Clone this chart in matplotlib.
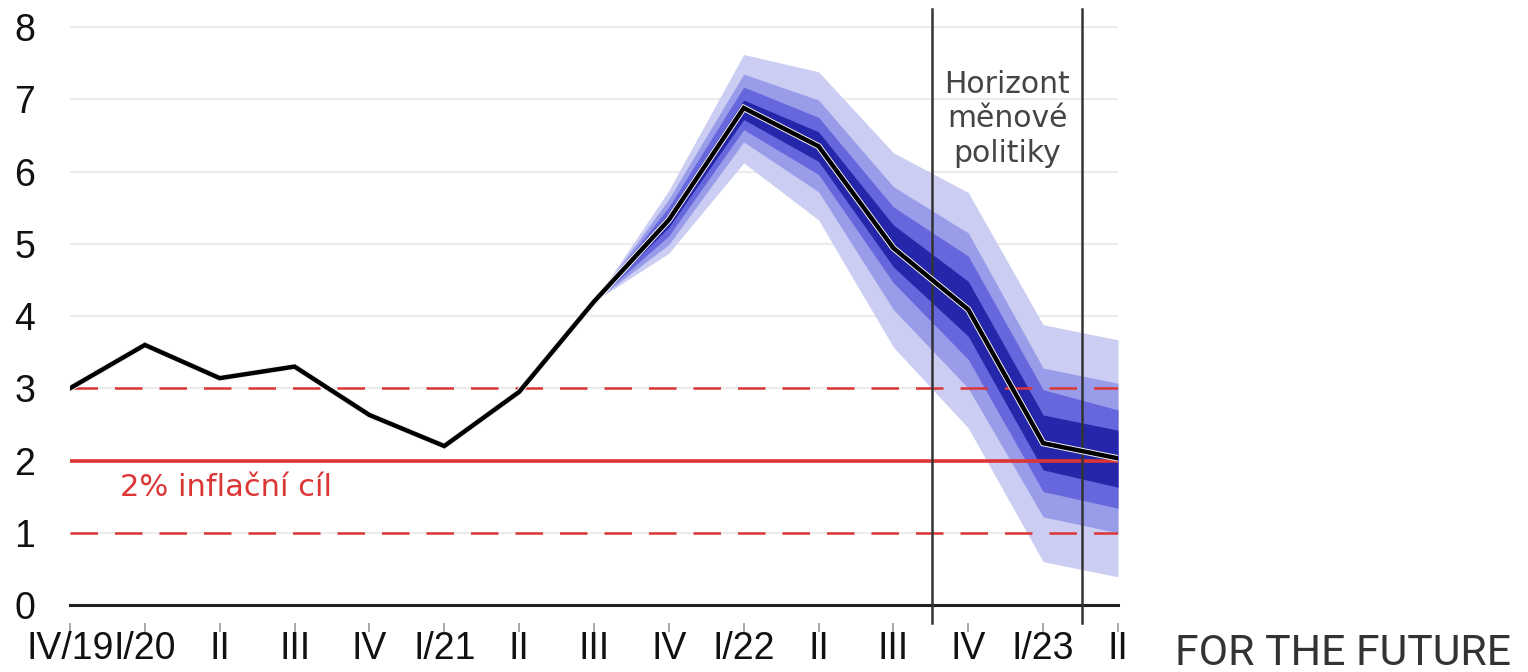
import numpy as np
import matplotlib.pyplot as plt
import matplotlib.patheffects as pe

# quarters on the x axis
quarters = ['IV/19', 'I/20', 'II', 'III', 'IV', 'I/21', 'II', 'III',
            'IV', 'I/22', 'II', 'III', 'IV', 'I/23', 'II']

# inflation (actual + forecast)
inflation = [3.0, 3.6, 3.14, 3.3, 2.63, 2.2, 2.95, 4.2,
             5.33, 6.88, 6.35, 4.94, 4.09, 2.24, 2.03]

# fan chart: first quarter of the fan is III/21 (index 7)
fan_start = 7
# upper edges, outermost to innermost
up4 = [4.2, 5.74, 7.62, 7.38, 6.26, 5.71, 3.88, 3.67]
up3 = [4.2, 5.62, 7.35, 6.99, 5.79, 5.15, 3.28, 3.07]
up2 = [4.2, 5.51, 7.17, 6.75, 5.51, 4.83, 2.98, 2.70]
up1 = [4.2, 5.42, 6.99, 6.55, 5.26, 4.48, 2.63, 2.42]
# lower edges, innermost to outermost
lo1 = [4.2, 5.23, 6.72, 6.14, 4.68, 3.72, 1.87, 1.63]
lo2 = [4.2, 5.11, 6.58, 5.96, 4.46, 3.40, 1.57, 1.34]
lo3 = [4.2, 4.99, 6.41, 5.72, 4.09, 3.00, 1.22, 1.00]
lo4 = [4.2, 4.87, 6.12, 5.33, 3.57, 2.45, 0.60, 0.39]

fan_colors = ['#cbcdf3', '#999ce9', '#6667dd', '#2626aa']

target = 2.0
tolerance = [1.0, 3.0]
horizon = [11.52, 13.52]   # monetary policy horizon lines

red = '#dc3535'

fig = plt.figure(figsize=(15.28, 6.72), dpi=100)
ax = fig.add_axes([70 / 1528, 67 / 672, 1048 / 1528, 596 / 672])

x = np.arange(len(quarters))
xf = x[fan_start:]

# grid
for v in range(1, 9):
    ax.axhline(v, color='#ebebeb', lw=1.5, zorder=0)

# fan bands
bands = [(lo4, up4), (lo3, up3), (lo2, up2), (lo1, up1)]
for (lo, up), c in zip(bands, fan_colors):
    ax.fill_between(xf, lo, up, color=c, lw=0, zorder=1)

# target line and tolerance band
ax.axhline(target, color=red, lw=2.6, zorder=2)
for t in tolerance:
    ax.axhline(t, color=red, lw=1.8, linestyle=(0, (11, 6.8)), zorder=2)

# zero axis
ax.axhline(0, color='#222222', lw=2.2, zorder=3, clip_on=False)

# horizon lines
for h in horizon:
    ax.axvline(h, ymin=-0.03, ymax=1, color='#333333', lw=1.8, zorder=4, clip_on=False)

# inflation line
ax.plot(x, inflation, color='black', lw=3.2, zorder=5, solid_joinstyle='miter',
        path_effects=[pe.Stroke(linewidth=4.6, foreground='#f4f4f4'), pe.Normal()])

ax.text(0.67, 1.63, '2% inflační cíl', color=red, fontsize=22,
        family='DejaVu Sans', ha='left', va='center')
ax.text(12.52, 7.40, 'Horizont\nměnové\npolitiky', color='#444444', fontsize=21.5,
        family='DejaVu Sans', ha='center', va='top', linespacing=1.22)

ax.set_xlim(0, 14)
ax.set_ylim(0, 8.25)
ax.set_yticks(range(0, 9))
ax.set_xticks(x)
ax.set_xticklabels(quarters)

for s in ax.spines.values():
    s.set_visible(False)
ax.spines['bottom'].set_position(('outward', 13))

ax.tick_params(axis='y', length=0, pad=25, labelsize=27, labelcolor='#111111')
ax.tick_params(axis='x', length=6.5, width=1.2, color='#999999', direction='out',
               pad=-0.5, labelsize=27, labelcolor='#111111')
for lab in ax.get_xticklabels() + ax.get_yticklabels():
    lab.set_family('Liberation Sans')

# footer text, sized to fit its slot
foot = fig.text(1175 / 1528, 7 / 672, 'FOR THE FUTURE', fontsize=30, color='#333333',
                family='Roboto', ha='left', va='baseline')
fig.canvas.draw()
w = foot.get_window_extent().width
foot.set_fontsize(30 * 335 / w)

fig.savefig('out.png', dpi=100)
